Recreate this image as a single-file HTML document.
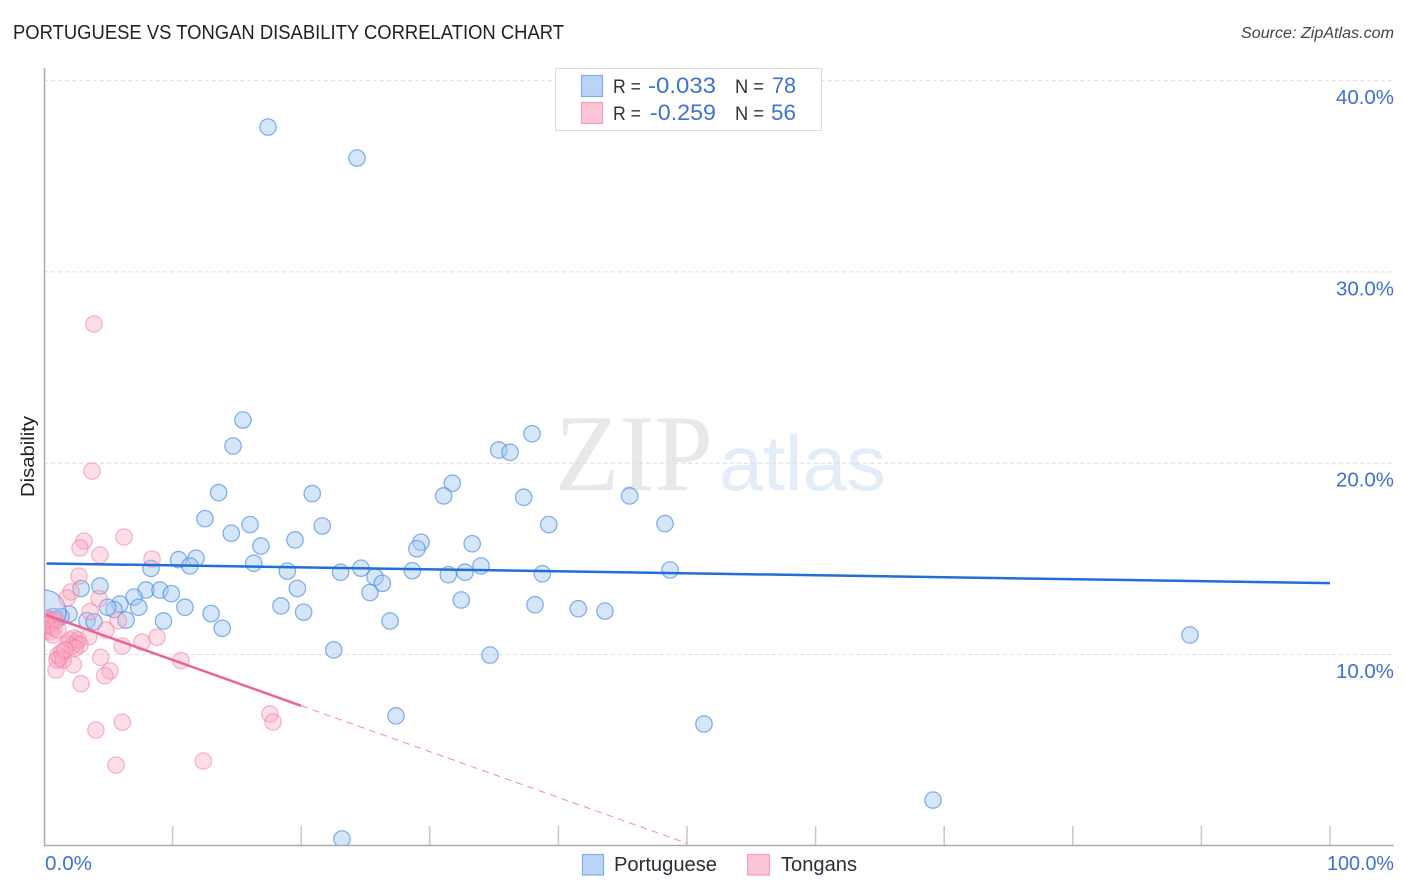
<!DOCTYPE html>
<html lang="en">
<head>
<meta charset="utf-8">
<title>Portuguese vs Tongan Disability Correlation Chart</title>
<style>
html,body{margin:0;padding:0;background:#fff;width:1406px;height:892px;overflow:hidden}
svg{display:block;font-family:"Liberation Sans",sans-serif}
</style>
</head>
<body>
<svg id="chart" width="1406" height="892" viewBox="0 0 1406 892" xmlns="http://www.w3.org/2000/svg">
  <defs>
    <clipPath id="plot-clip"><rect x="44" y="60" width="1350" height="785"/></clipPath>
  </defs>
  <rect x="0" y="0" width="1406" height="892" fill="#fff"/>
  <text x="13" y="39" font-size="20" fill="#222" textLength="551" lengthAdjust="spacingAndGlyphs">PORTUGUESE VS TONGAN DISABILITY CORRELATION CHART</text>
  <text x="1241" y="38" font-size="15.5" font-style="italic" fill="#444" textLength="153" lengthAdjust="spacingAndGlyphs">Source: ZipAtlas.com</text>
  <text transform="translate(34,497) rotate(-90)" font-size="18" fill="#222" textLength="81" lengthAdjust="spacingAndGlyphs">Disability</text>

  <g>
    <text x="555" y="490" font-family="'Liberation Serif',serif" font-size="109" fill="#e8e8e8" textLength="158" lengthAdjust="spacingAndGlyphs">ZIP</text>
    <text x="719" y="490" font-size="78" fill="#e3ecf9" textLength="167" lengthAdjust="spacingAndGlyphs">atlas</text>
  </g>

  <g id="grid"></g>
  <g id="axes"></g>
  <g id="portuguese-points" clip-path="url(#plot-clip)"></g>
  <g id="tongan-points" clip-path="url(#plot-clip)"></g>
  <g id="trends"></g>
  <g id="labels"></g>

  <g>
    <rect x="555.5" y="68.5" width="266" height="62" fill="#fff" stroke="#dcdcdc" stroke-width="1"/>
    <rect x="581.5" y="75.5" width="21" height="21" fill="#b9d4f7" stroke="#7fadea" stroke-width="1.2"/>
    <rect x="581.5" y="102.5" width="21" height="21" fill="#fcc5d6" stroke="#f4a0bb" stroke-width="1.2"/>
    <text x="613" y="93" font-size="19" fill="#333" textLength="28" lengthAdjust="spacingAndGlyphs">R =</text>
    <text x="648" y="93" font-size="22" fill="#3d72d2" textLength="68" lengthAdjust="spacingAndGlyphs">-0.033</text>
    <text x="735" y="93" font-size="19" fill="#333" textLength="29" lengthAdjust="spacingAndGlyphs">N =</text>
    <text x="772" y="93" font-size="22" fill="#3d72d2" textLength="24" lengthAdjust="spacingAndGlyphs">78</text>
    <text x="613" y="120" font-size="19" fill="#333" textLength="28" lengthAdjust="spacingAndGlyphs">R =</text>
    <text x="650" y="120" font-size="22" fill="#3d72d2" textLength="66" lengthAdjust="spacingAndGlyphs">-0.259</text>
    <text x="735" y="120" font-size="19" fill="#333" textLength="29" lengthAdjust="spacingAndGlyphs">N =</text>
    <text x="771" y="120" font-size="22" fill="#3d72d2" textLength="25" lengthAdjust="spacingAndGlyphs">56</text>
  </g>

  <g>
    <g>
      <rect x="582.5" y="854.5" width="21" height="20.5" fill="#b9d4f7" stroke="#7fadea" stroke-width="1.2"/>
      <text x="614" y="871" font-size="20" fill="#2a2f38" textLength="103" lengthAdjust="spacingAndGlyphs">Portuguese</text>
    </g>
    <g>
      <rect x="747.5" y="854.5" width="22" height="20.5" fill="#fcc5d6" stroke="#f4a0bb" stroke-width="1.2"/>
      <text x="781" y="871" font-size="20" fill="#2a2f38" textLength="76" lengthAdjust="spacingAndGlyphs">Tongans</text>
    </g>
  </g>
</svg>

<script>
// ---- chart data (percent units) ----
const yTickValues = [10, 20, 30, 40];
const yTickLabels = ["10.0%", "20.0%", "30.0%", "40.0%"];
const xTickValues = [0, 10, 20, 30, 40, 50, 60, 70, 80, 90, 100];
const xEndLabels = ["0.0%", "100.0%"];

const portugueseX = [17.42,24.34,15.47,14.70,37.95,35.36,36.24,31.75,13.58,20.86,31.08,37.30,45.54,12.52,16.02,21.64,39.25,48.29,14.56,16.87,19.52,29.32,29.00,33.30,10.47,11.82,11.35,16.31,8.32,18.92,23.06,24.65,28.64,31.44,32.74,33.98,38.75,48.68,25.74,26.31,25.35,19.70,4.35,2.88,7.93,9.02,9.90,7.00,5.91,7.36,10.96,5.44,4.94,18.43,20.19,12.99,32.45,38.18,41.55,43.62,9.29,6.38,13.86,26.91,22.53,34.68,89.11,27.37,51.32,69.13,23.17,1.94,3.34,3.89,1.32,0.72,0.47];
const portugueseY = [37.57,35.95,22.26,20.90,21.54,20.69,20.57,18.95,18.46,18.41,18.29,18.22,18.29,17.10,16.79,16.72,16.79,16.84,16.34,15.67,15.99,15.87,15.53,15.79,14.96,15.03,14.63,14.77,14.50,14.36,14.30,14.51,14.38,14.17,14.30,14.63,14.22,14.42,14.04,13.72,13.24,13.45,13.58,13.45,13.37,13.37,13.18,13.00,12.64,12.47,12.47,12.35,12.47,12.54,12.21,12.14,12.85,12.60,12.39,12.27,11.75,11.80,11.37,11.75,10.24,9.97,11.02,6.79,6.37,2.39,0.36,12.12,11.77,11.71,11.98,11.98,11.80];
// one heavily weighted observation sitting on the y axis
const portugueseHeavyX = [0];
const portugueseHeavyY = [12.22];

const tonganX = [3.89,3.73,3.11,2.80,4.35,6.22,8.40,2.72,2.10,1.79,4.28,3.58,5.78,4.82,3.48,6.09,7.62,8.79,10.65,4.41,5.13,4.72,2.28,0.93,2.88,6.09,4.04,5.60,12.39,17.57,17.81,0.16,0.31,0.47,0.62,0.16,0.47,0.78,0.93,0.23,0.70,1.09,2.02,2.33,2.49,2.18,2.64,1.87,2.80,2.41,1.09,1.24,1.40,1.48,1.01,1.63];
const tonganY = [27.28,19.59,15.93,15.57,15.20,16.14,14.99,14.10,13.27,12.95,12.92,12.24,11.77,11.28,10.93,10.44,10.65,10.90,9.68,9.85,9.14,8.89,9.47,9.19,8.47,6.46,6.05,4.22,4.43,6.89,6.47,11.91,11.70,11.49,11.80,11.28,11.18,11.39,11.80,11.54,11.02,11.28,10.76,10.86,10.60,10.44,10.76,10.55,10.50,10.34,9.97,9.82,10.13,9.71,9.71,10.24];

const portugueseTrendX = [0.2, 100];
const portugueseTrendY = [14.76, 13.73];
const tonganTrendX = [0.2, 20];
const tonganTrendY = [12.06, 7.32];
const tonganDashX = [20, 50];
const tonganDashY = [7.32, 0.13];

// ---- axis functions ----
function sx(v) { return 44 + v * 12.86; }
function sy(v) { return 845.8 - v * 19.13; }

const NS = "http://www.w3.org/2000/svg";
function make(tag, parentId, attrs, text) {
  const el = document.createElementNS(NS, tag);
  for (const k in attrs) el.setAttribute(k, attrs[k]);
  if (text !== undefined) el.textContent = text;
  document.getElementById(parentId).appendChild(el);
  return el;
}

// grid lines
yTickValues.forEach(function (v) {
  const el = make("line", "grid", {x1: 44, x2: 1394, y1: sy(v), y2: sy(v), stroke: "#dedede", "stroke-width": 1, "stroke-dasharray": "4 3"});
  
  
});

// axes
const yAxis = make("line", "axes", {x1: 44.5, x2: 44.5, y1: 68, y2: 846, stroke: "#aaa", "stroke-width": 1.5});


const xAxis = make("line", "axes", {x1: 44, x2: 1394, y1: 845.5, y2: 845.5, stroke: "#aaa", "stroke-width": 1.5});


xTickValues.slice(1).forEach(function (v) {
  const el = make("line", "axes", {x1: sx(v), x2: sx(v), y1: 826, y2: 845, stroke: "#c8c8c8", "stroke-width": 1.5});
  
  
});

// tick labels
yTickLabels.forEach(function (t, i) {
  const el = make("text", "labels", {x: 1394, y: sy(yTickValues[i]) + 23.5, "font-size": 20, fill: "#3d72d2", "text-anchor": "end", textLength: t.length === 5 ? 58 : 58, lengthAdjust: "spacingAndGlyphs"}, t);
  
  
});
const x0 = make("text", "labels", {x: 45, y: 870, "font-size": 20, fill: "#3d72d2", textLength: 47, lengthAdjust: "spacingAndGlyphs"}, xEndLabels[0]);


const x1 = make("text", "labels", {x: 1327, y: 870, "font-size": 20, fill: "#3d72d2", textLength: 67, lengthAdjust: "spacingAndGlyphs"}, xEndLabels[1]);



// points
portugueseX.forEach(function (v, i) {
  const el = make("circle", "portuguese-points", {cx: sx(v), cy: sy(portugueseY[i]), r: 8.2, fill: "#a5c8f2", "fill-opacity": 0.45, stroke: "#4a8ae0", "stroke-opacity": 0.65, "stroke-width": 1.3});
  
  
});
portugueseHeavyX.forEach(function (v, i) {
  const el = make("circle", "portuguese-points", {cx: sx(v), cy: sy(portugueseHeavyY[i]), r: 22, fill: "#a5c8f2", "fill-opacity": 0.45, stroke: "#4a8ae0", "stroke-opacity": 0.65, "stroke-width": 1.3});
  
  
});
tonganX.forEach(function (v, i) {
  const el = make("circle", "tongan-points", {cx: sx(v), cy: sy(tonganY[i]), r: 8.2, fill: "#f9a8c1", "fill-opacity": 0.38, stroke: "#f0789f", "stroke-opacity": 0.5, "stroke-width": 1.3});
  
  
});

// trend lines
const pTrend = make("line", "trends", {x1: sx(portugueseTrendX[0]), y1: sy(portugueseTrendY[0]), x2: sx(portugueseTrendX[1]), y2: sy(portugueseTrendY[1]), stroke: "#1f6fd6", "stroke-width": 2.5});


const tTrend = make("line", "trends", {x1: sx(tonganTrendX[0]), y1: sy(tonganTrendY[0]), x2: sx(tonganTrendX[1]), y2: sy(tonganTrendY[1]), stroke: "#ea6494", "stroke-width": 2.5});


const tDash = make("line", "trends", {x1: sx(tonganDashX[0]), y1: sy(tonganDashY[0]), x2: sx(tonganDashX[1]), y2: sy(tonganDashY[1]), stroke: "#ea6494", "stroke-opacity": 0.75, "stroke-width": 1, "stroke-dasharray": "7 5"});


</script>
</body>
</html>
